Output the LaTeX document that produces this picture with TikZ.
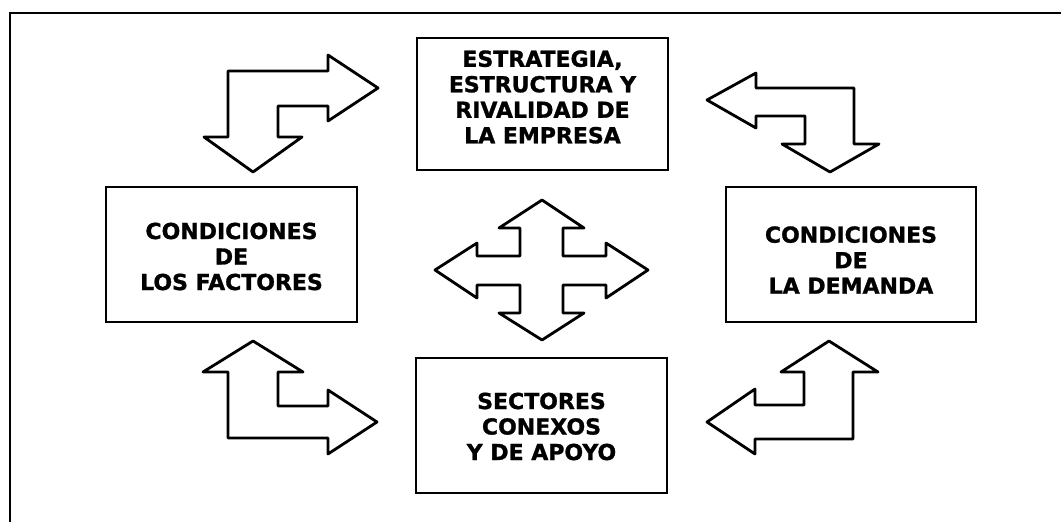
\documentclass[tikz,border=0pt]{standalone}
\usepackage{fontspec}
\setmainfont{DejaVu Sans}
\newfontfamily\heavyfont{DejaVu Sans Bold}[FakeBold=1.2]
\usetikzlibrary{calc}
\begin{document}
\begin{tikzpicture}[x=1pt,y=-1pt,
  box/.style={draw,line width=2.4pt,minimum width=#1,minimum height=135pt,inner sep=0pt},
  txt/.style={align=center,font=\fontsize{22pt}{25.5pt}\heavyfont,inner sep=0pt},
  bigarrow/.style={draw,line width=2.8pt,line join=round,fill=white},
  frame/.style={draw,line width=2.2pt}]
\useasboundingbox (0,0) rectangle (1061,522);
% outer frame (only top and left edges visible)
\draw[frame] (10,523) -- (10,13) -- (1062,13);
% boxes
\node[box=251pt,minimum height=132pt] (top) at (542.5,104) {};
\node[box=251pt] (left) at (231.5,254.5) {};
\node[box=250pt] (right) at (851,254.5) {};
\node[box=251pt] (bottom) at (541.5,425.5) {};
% texts
\node[txt] (ttop) at ($(top.center)+(0,-7)$) {ESTRATEGIA,\\ESTRUCTURA Y\\RIVALIDAD DE\\LA EMPRESA};
\node[txt] (tleft) at ($(left.center)+(0,2)$) {CONDICIONES\\DE\\LOS FACTORES};
\node[txt] (tright) at ($(right.center)+(0,5.5)$) {CONDICIONES\\DE\\LA DEMANDA};
\node[txt] (tbottom) at ($(bottom.center)+(0,1)$) {SECTORES\\CONEXOS\\Y DE APOYO};
% top-left arrow
\draw[bigarrow] (228,71) -- (328,71) -- (328,55) -- (378,88) -- (328,121) -- (328,106)
  -- (278,106) -- (278,137) -- (302,137) -- (253,172) -- (204,137) -- (228,137) -- cycle;
% top-right arrow
\draw[bigarrow] (707,100) -- (756,73) -- (756,88) -- (854,88) -- (854,144) -- (879,144)
  -- (830,172) -- (782,144) -- (805,144) -- (805,116) -- (756,116) -- (756,128) -- cycle;
% bottom-left arrow
\draw[bigarrow] (253,341) -- (303,372) -- (278,372) -- (278,406) -- (328,406) -- (328,390)
  -- (377,422) -- (328,454) -- (328,438) -- (228,438) -- (228,372) -- (203,372) -- cycle;
% bottom-right arrow
\draw[bigarrow] (829,341) -- (878,372) -- (853,372) -- (853,439) -- (755,439) -- (755,454)
  -- (707,422) -- (755,389) -- (755,405) -- (804,405) -- (804,372) -- (781,372) -- cycle;
% central cross
\draw[bigarrow] (542,200) -- (584,228) -- (563,228) -- (563,256) -- (606,256) -- (606,243)
  -- (648,270) -- (606,298) -- (606,285) -- (563,285) -- (563,313) -- (584,313)
  -- (542,340) -- (499,313) -- (520,313) -- (520,285) -- (477,285) -- (477,298)
  -- (435,270) -- (477,243) -- (477,256) -- (520,256) -- (520,228) -- (499,228) -- cycle;
\end{tikzpicture}
\end{document}
